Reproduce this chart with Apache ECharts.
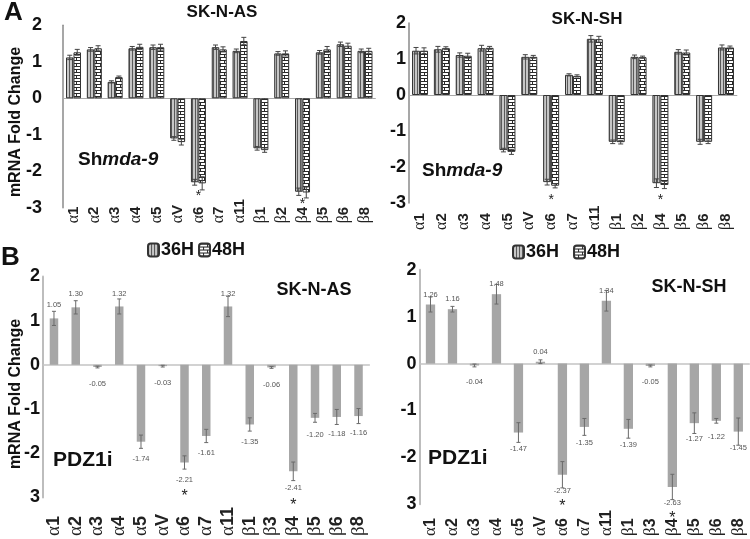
<!DOCTYPE html>
<html><head><meta charset="utf-8">
<script src="https://cdn.jsdelivr.net/npm/echarts@6/dist/echarts.min.js"></script>
<style>html,body{margin:0;padding:0;background:#fff}#c{width:750px;height:539px}</style>
</head><body><div id="c"></div>
<script>
// ---------- data ----------
const catsA = ['α1','α2','α3','α4','α5','αV','α6','α7','α11','β1','β2','β4','β5','β6','β8'];
const catsB = ['α1','α2','α3','α4','α5','αV','α6','α7','α11','β1','β3','β4','β5','β6','β8'];
const yTicksA = ['-3','-2','-1','0','1','2'];
const yTicksB = ['3','-2','-1','0','1','2'];
const seriesNames = ['36H','48H'];

// Panel A, SK-N-AS (shmda-9)
const asH36    = [1.12,1.34,0.45,1.37,1.40,-1.10,-2.30,1.40,1.30,-1.37,1.23,-2.56,1.26,1.48,1.30];
const asH36Err = [0.06,0.05,0.03,0.05,0.06,0.05,0.08,0.06,0.05,0.05,0.05,0.10,0.05,0.06,0.05];
const asH48    = [1.26,1.37,0.58,1.41,1.40,-1.20,-2.33,1.34,1.57,-1.42,1.23,-2.58,1.34,1.44,1.30];
const asH48Err = [0.08,0.07,0.03,0.07,0.08,0.08,0.18,0.07,0.10,0.06,0.07,0.15,0.08,0.07,0.07];
const asSigA   = [0,0,0,0,0,0,1,0,0,0,0,1,0,0,0];
// Panel A, SK-N-SH (shmda-9)
const shH36    = [1.23,1.27,1.11,1.30,-1.53,1.06,-2.42,0.56,1.56,-1.30,1.06,-2.45,1.20,-1.30,1.32];
const shH36Err = [0.09,0.08,0.06,0.08,0.05,0.06,0.08,0.03,0.09,0.05,0.05,0.12,0.06,0.07,0.07];
const shH48    = [1.23,1.30,1.09,1.31,-1.58,1.06,-2.52,0.53,1.55,-1.31,1.05,-2.50,1.18,-1.30,1.32];
const shH48Err = [0.08,0.04,0.07,0.04,0.07,0.04,0.06,0.03,0.08,0.05,0.03,0.10,0.07,0.05,0.04];
const shSigA   = [0,0,0,0,0,0,1,0,0,0,0,1,0,0,0];
// Panel B, PDZ1i
const asPdz    = [1.05,1.30,-0.05,1.32,-1.74,-0.03,-2.21,-1.61,1.32,-1.35,-0.06,-2.41,-1.20,-1.18,-1.16];
const asPdzErr = [0.16,0.15,0.02,0.17,0.15,0.02,0.15,0.15,0.23,0.15,0.02,0.21,0.10,0.17,0.17];
const asSigB   = [0,0,0,0,0,0,1,0,0,0,0,1,0,0,0];
const shPdz    = [1.26,1.16,-0.04,1.48,-1.47,0.04,-2.37,-1.35,1.34,-1.39,-0.05,-2.63,-1.27,-1.22,-1.45];
const shPdzErr = [0.16,0.06,0.03,0.21,0.21,0.04,0.28,0.18,0.22,0.20,0.02,0.27,0.22,0.05,0.29];
const shSigB   = [0,0,0,0,0,0,1,0,0,0,0,1,0,0,0];

// ---------- styles ----------
const F = 'Liberation Sans';
function pat36(){const c=document.createElement('canvas');c.width=3;c.height=4;const g=c.getContext('2d');
  g.fillStyle='#c6c6c6';g.fillRect(0,0,3,4);g.fillStyle='#5a5a5a';g.fillRect(0,0,1,4);return c;}
function pat48(){const c=document.createElement('canvas');c.width=8;c.height=6;const g=c.getContext('2d');
  g.fillStyle='#ffffff';g.fillRect(0,0,8,6);g.fillStyle='#2a2a2a';
  g.fillRect(0,0,8,1);g.fillRect(0,3,8,1);g.fillRect(0,1,1,2);g.fillRect(4,4,1,2);return c;}
const style36 = {color:{image:pat36(),repeat:'repeat'},borderColor:'#333',borderWidth:1};
const style48 = {color:{image:pat48(),repeat:'repeat'},borderColor:'#333',borderWidth:1};

const grids = [
  {left:63.1, width:312.3, top:25.3, height:182.5},
  {left:409.1, width:327.8, top:23, height:180},
  {left:43.1, width:326.3, top:276.4, height:223},
  {left:419.5, width:329.8, top:269.8, height:235.5}
];
const labelMargins = [15.5, 27, 38.6, 31.7];
const labelSizes = [15, 15, 18, 16];
const catList = [catsA, catsA, catsB, catsB];

const xAxes = [], yAxes = [];
grids.forEach((g,k)=>{
  const isB = k>=2;
  xAxes.push({gridIndex:k,type:'category',data:catList[k],
    axisLine:{onZero:true,lineStyle:{color:isB?'#c4c4c4':'#a8a8a8',width:isB?1.5:1}},
    axisTick:{show:false},axisLabel:{show:false}});
  const fs = labelSizes[k];
  xAxes.push({gridIndex:k,type:'category',data:catList[k],position:'bottom',
    axisLine:{show:false,onZero:false},axisTick:{show:false},
    axisLabel:{interval:0,rotate:90,align:'left',verticalAlign:'middle',margin:labelMargins[k],
      formatter:v=>'{g|'+v.charAt(0)+'}{n|'+v.slice(1)+'}',
      rich:{g:{fontFamily:'Liberation Serif',fontSize:fs+1,color:'#222'},
            n:{fontFamily:F,fontSize:fs,fontWeight:'bold',color:'#222'}}}});
  const ticks = isB ? yTicksB : yTicksA;
  yAxes.push({gridIndex:k,type:'value',min:-3,max:2,interval:1,splitLine:{show:false},
    axisLine:{show:true,lineStyle:{color:isB?'#bdbdbd':'#8a8a8a',width:isB?2:1.5}},
    axisTick:{show:false},
    axisLabel:{margin:k===0?21:3,fontFamily:F,fontWeight:'bold',fontSize:18,color:'#111',
      formatter:v=>ticks[Math.round(v)+3]}});
});

function tri(vals, errs){return vals.map((v,i)=>[i,v,errs[i]]);}

function errRender(off, capW, color){
  return function(params, api){
    const i=api.value(0), v=api.value(1), e=api.value(2);
    const x=api.coord([i,v])[0]+off;
    const y1=api.coord([i,v+e])[1], y2=api.coord([i,v-e])[1];
    const st={stroke:color,lineWidth:1};
    return {type:'group',children:[
      {type:'line',shape:{x1:x,y1:y1,x2:x,y2:y2},style:st},
      {type:'line',shape:{x1:x-capW,y1:y1,x2:x+capW,y2:y1},style:st},
      {type:'line',shape:{x1:x-capW,y1:y2,x2:x+capW,y2:y2},style:st}]};
  };
}

function starRender(dy, fs){
  return function(params, api){
    const i=api.value(0), v=api.value(1);
    const p=api.coord([i,v]);
    return {type:'text',x:p[0],y:p[1]+dy,style:{text:'*',textAlign:'center',textVerticalAlign:'middle',
      font:fs+'px '+F,fill:'#222'}};
  };
}

const series = [];
function panelA(k, h36, e36, h48, e48, sig, bw, starOff){
  const xi=2*k, yi=k;
  series.push({name:'36H',type:'bar',xAxisIndex:xi,yAxisIndex:yi,data:h36,barWidth:bw,barGap:'0%',itemStyle:style36,z:2});
  series.push({name:'48H',type:'bar',xAxisIndex:xi,yAxisIndex:yi,data:h48,barWidth:bw,barGap:'0%',itemStyle:style48,z:2});
  series.push({type:'custom',xAxisIndex:xi,yAxisIndex:yi,data:tri(h36,e36),renderItem:errRender(-bw/2,2.5,'#444'),z:5,silent:true});
  series.push({type:'custom',xAxisIndex:xi,yAxisIndex:yi,data:tri(h48,e48),renderItem:errRender(bw/2,2.5,'#444'),z:5,silent:true});
  const stars=[];
  sig.forEach((s,i)=>{ if(s) stars.push([i, Math.min(h36[i]-e36[i], h48[i]-e48[i])]); });
  series.push({type:'custom',xAxisIndex:xi,yAxisIndex:yi,data:stars,renderItem:starRender(starOff,14),z:6,silent:true});
}
function panelB(k, vals, errs, sig, bw, upOff, downOff, starOff){
  const xi=2*k, yi=k;
  series.push({name:'PDZ1i',type:'bar',xAxisIndex:xi,yAxisIndex:yi,data:vals,barWidth:bw,itemStyle:{color:'#a6a6a6'},z:2});
  series.push({type:'custom',xAxisIndex:xi,yAxisIndex:yi,data:tri(vals,errs),renderItem:errRender(0,2,'#6a6a6a'),z:5,silent:true});
  series.push({type:'custom',xAxisIndex:xi,yAxisIndex:yi,data:vals.map((v,i)=>[i,v]),z:6,silent:true,
    renderItem:function(params,api){
      const i=api.value(0), v=api.value(1);
      const p=api.coord([i,v]);
      return {type:'text',x:p[0],y:v>=0?p[1]-upOff:p[1]+downOff,
        style:{text:v.toFixed(2),textAlign:'center',textVerticalAlign:'middle',font:'7.5px '+F,fill:'#555'}};
    }});
  const stars=[];
  sig.forEach((s,i)=>{ if(s) stars.push([i, vals[i]]); });
  series.push({type:'custom',xAxisIndex:xi,yAxisIndex:yi,data:stars,renderItem:starRender(starOff,16),z:6,silent:true});
}
panelA(0, asH36, asH36Err, asH48, asH48Err, asSigA, 7.5, 6);
panelA(1, shH36, shH36Err, shH48, shH48Err, shSigA, 8, 12);
panelB(2, asPdz, asPdzErr, asSigB, 8.5, 13, 17, 34);
panelB(3, shPdz, shPdzErr, shSigB, 9.3, 10, 16, 32);

const T = (text,x,y,size,opt)=>Object.assign({type:'text',x:x,y:y,style:Object.assign({text:text,
  textAlign:'center',textVerticalAlign:'middle',font:'bold '+size+'px '+F,fill:'#111'},opt||{})});

const graphics = [
  T('A',4,13,26,{textAlign:'left'}),
  T('B',1,258,26,{textAlign:'left'}),
  T('SK-N-AS',222,12.5,17),
  T('SK-N-SH',587,19,17),
  T('SK-N-AS',314,290,18),
  T('SK-N-SH',689,287,18),
  Object.assign(T('mRNA Fold Change',16,122,16),{rotation:Math.PI/2}),
  Object.assign(T('mRNA Fold Change',16,394,16),{rotation:Math.PI/2}),
  {type:'text',x:78,y:160,style:{text:'{a|Sh}{b|mda-9}',textVerticalAlign:'middle',
    rich:{a:{font:'bold 19px '+F,fill:'#111'},b:{font:'italic bold 19px '+F,fill:'#111'}}}},
  {type:'text',x:422,y:171,style:{text:'{a|Sh}{b|mda-9}',textVerticalAlign:'middle',
    rich:{a:{font:'bold 19px '+F,fill:'#111'},b:{font:'italic bold 19px '+F,fill:'#111'}}}},
  T('PDZ1i',53,460,21,{textAlign:'left'}),
  T('PDZ1i',428,458,21,{textAlign:'left'})
];

const chart = echarts.init(document.getElementById('c'), null, {renderer:'canvas'});
chart.setOption({
  animation:false,
  grid:grids,
  xAxis:xAxes,
  yAxis:yAxes,
  legend:[
    {data:seriesNames,left:147,top:241,padding:0,itemWidth:11,itemHeight:13,itemGap:4,selectedMode:false,
      textStyle:{fontFamily:F,fontWeight:'bold',fontSize:18,color:'#111',padding:[0,0,0,-3]}},
    {data:seriesNames,left:512,top:243,padding:0,itemWidth:11,itemHeight:13,itemGap:14,selectedMode:false,
      textStyle:{fontFamily:F,fontWeight:'bold',fontSize:18,color:'#111',padding:[0,0,0,-3]}}
  ],
  series:series,
  graphic:graphics
});
</script></body></html>
